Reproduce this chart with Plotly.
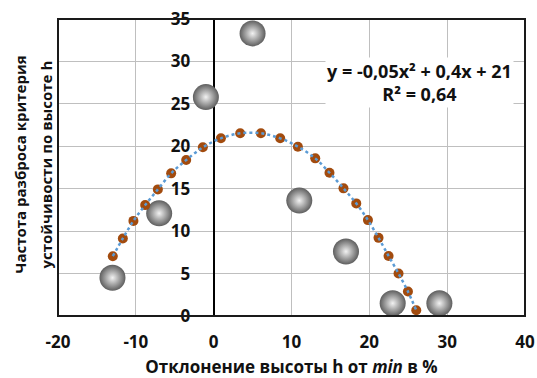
import plotly.graph_objects as go

# Observed data (gray spheres)
obs_x = [-13, -7, -1, 5, 11, 17, 23, 29]
obs_y = [4.5, 12.1, 25.8, 33.3, 13.6, 7.6, 1.5, 1.5]

# Trend curve points (brown dots)
trend_x = [-12.96, -11.67, -10.31, -8.80, -7.17, -5.46, -3.53, -1.39, 0.93, 3.41,
           6.07, 8.55, 10.82, 13.05, 14.88, 16.68, 18.32, 19.82, 21.18, 22.47,
           23.75, 24.96, 26.03]
trend_y = [7.05, 9.14, 11.21, 13.07, 14.92, 16.81, 18.38, 19.88, 20.94, 21.53,
           21.53, 20.94, 19.95, 18.58, 16.88, 15.04, 13.27, 11.30, 9.21, 7.08,
           5.01, 2.88, 0.67]

x_ticks = [-20, -10, 0, 10, 20, 30, 40]
x_tick_labels = ["-20", "-10", "0", "10", "20", "30", "40"]
y_ticks = [0, 5, 10, 15, 20, 25, 30, 35]
y_tick_labels = ["0", "5", "10", "15", "20", "25", "30", "35"]

eq_text = "y = -0,05x² + 0,4x + 21<br>R² = 0,64"
x_title = "Отклонение высоты h от <i>min</i> в %"
y_title_1 = "Частота разброса критерия"
y_title_2 = "устойчивости по высоте h"

FONT = "Open Sans"
TXT = "#111111"

fig = go.Figure()
fig.add_trace(go.Scatter(
    x=obs_x, y=obs_y, mode="markers",
    marker=dict(size=26, color="#5e5e5e",
                gradient=dict(type="radial", color="#f2f2f2"),
                line=dict(width=0)),
    showlegend=False, hoverinfo="skip"))
fig.add_trace(go.Scatter(
    x=trend_x, y=trend_y, mode="markers",
    marker=dict(size=10, color="#A24B0E", line=dict(width=0)),
    showlegend=False))
fig.add_trace(go.Scatter(
    x=trend_x, y=trend_y, mode="lines",
    line=dict(color="#5B9BD5", width=2.5, dash="dot", shape="spline"),
    showlegend=False))

fig.update_layout(
    width=537, height=378,
    margin=dict(l=58, r=12, t=19, b=62),
    paper_bgcolor="white", plot_bgcolor="white",
    font=dict(family=FONT, color=TXT),
    xaxis=dict(range=[-20, 40], tickvals=x_ticks, ticktext=x_tick_labels, showgrid=True,
               gridcolor="#BFBFBF", gridwidth=1.3, automargin=False,
               zeroline=True, zerolinecolor="black", zerolinewidth=2,
               ticks="outside", ticklen=11, tickcolor="rgba(0,0,0,0)",
               tickfont=dict(family=FONT, size=17, color=TXT, weight="bold"),
               title=dict(text=x_title, standoff=12,
                          font=dict(family=FONT, size=17, color=TXT, weight="bold")),
               showline=False),
    yaxis=dict(range=[0, 35], tickvals=y_ticks, ticktext=y_tick_labels, showgrid=True,
               gridcolor="#BFBFBF", gridwidth=1.3, zeroline=False, automargin=False,
               anchor="free", position=1/3,
               ticks="outside", ticklen=20, tickcolor="rgba(0,0,0,0)",
               tickfont=dict(family=FONT, size=17, color=TXT, weight="bold"),
               showline=False),
    shapes=[dict(type="rect", xref="paper", yref="paper", x0=0, x1=1, y0=0, y1=1,
                 line=dict(color="#1a1a1a", width=2), layer="above")],
    annotations=[
        dict(text=eq_text, x=26.5, y=27.5, xref="x", yref="y", showarrow=False,
             bgcolor="white", align="center",
             font=dict(family=FONT, size=18, color=TXT, weight="bold")),
        dict(text=y_title_1, x=-0.0814, y=0.51, xref="paper", yref="paper",
             showarrow=False, textangle=-90, xanchor="center", yanchor="middle",
             font=dict(family=FONT, size=15, color=TXT, weight="bold")),
        dict(text=y_title_2, x=-0.0257, y=0.51, xref="paper", yref="paper",
             showarrow=False, textangle=-90, xanchor="center", yanchor="middle",
             font=dict(family=FONT, size=15, color=TXT, weight="bold")),
    ],
)

fig.write_html("out.html", config={"displayModeBar": False},
               post_script="document.body.style.margin='0';document.body.style.padding='0';")
